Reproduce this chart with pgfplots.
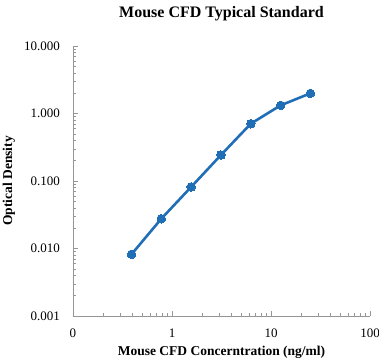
\documentclass[border=0pt]{standalone}
\usepackage{pgfplots}
\pgfplotsset{compat=1.18}
\usepackage{fontspec}
\setmainfont{Liberation Serif}
\definecolor{lineblue}{RGB}{31,110,182}
\definecolor{axgray}{RGB}{150,150,150}
\begin{document}
\begin{tikzpicture}
\useasboundingbox (-73pt,-47pt) rectangle (306pt,316pt);
\begin{axis}[
  at={(0pt,0pt)}, anchor=south west,
  scale only axis, width=297pt, height=270pt,
  xmode=log, ymode=log,
  xmin=0.1, xmax=100, ymin=0.001, ymax=10,
  axis x line*=bottom, axis y line*=left,
  axis line style={axgray, line width=0.6pt},
  tick style={axgray, line width=0.5pt},
  tick align=inside,
  major tick length=5pt, minor tick length=3pt,
  xtick={0.1,1,10,100}, xticklabels={0,1,10,100},
  ytick={0.001,0.01,0.1,1,10}, yticklabels={0.001,0.010,0.100,1.000,10.000},
  ticklabel style={font=\fontsize{13}{14}\selectfont, inner sep=0pt},
  /pgf/number format/assume math mode=true,
  xticklabel style={anchor=center, yshift=-17pt},
  yticklabel style={anchor=east, xshift=-13pt},
  xlabel={\textbf{Mouse CFD Concerntration (ng/ml)}},
  ylabel={\textbf{Optical Density}},
  label style={font=\fontsize{13.5}{15}\selectfont},
  xlabel style={at={(axis description cs:0.5,0)}, anchor=center, yshift=-36pt},
  ylabel style={at={(axis description cs:0,0.5)}, anchor=center, yshift=64pt},
  title={\textbf{Mouse CFD Typical Standard}},
  title style={font=\fontsize{16}{18}\selectfont, at={(axis description cs:0.5,1)}, anchor=center, yshift=26pt},
]
\addplot[lineblue, line width=2.6pt, mark=*, mark size=4.3pt, mark options={fill=lineblue, draw=lineblue, line width=0pt}]
coordinates {(0.39,0.0082) (0.78,0.0276) (1.56,0.0815) (3.125,0.243) (6.25,0.706) (12.5,1.32) (25,1.99)};
\end{axis}
\end{tikzpicture}
\end{document}
